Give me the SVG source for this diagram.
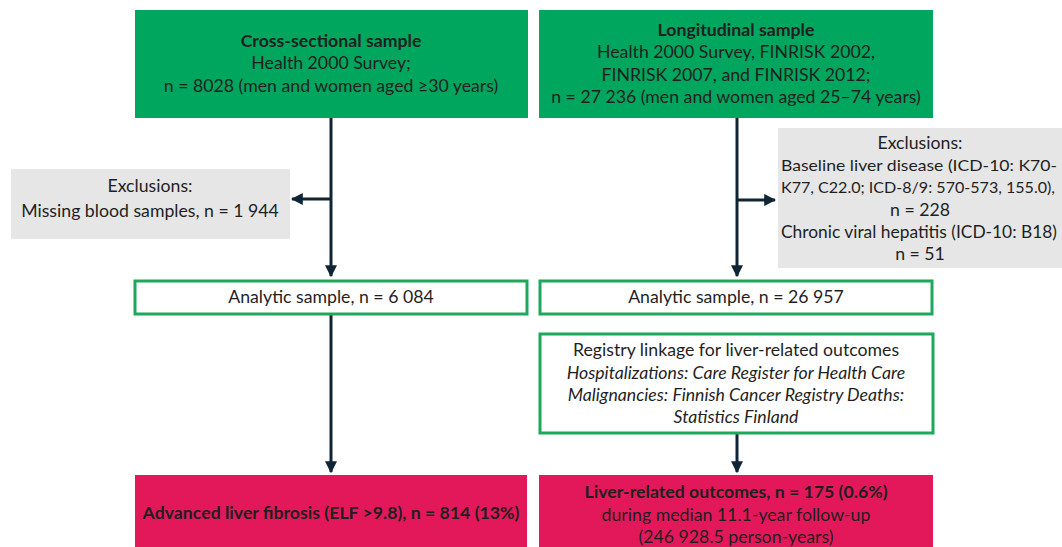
<svg xmlns="http://www.w3.org/2000/svg" width="1062" height="547" viewBox="0 0 1062 547">
<defs>
<style>
text{font-family:"Lato","Noto Sans",sans-serif;font-size:17.7px;fill:#1f1f1f;text-anchor:middle}
.b{font-weight:bold}
.i{font-style:italic}
.s{font-size:16px}
.green{fill:#00a65e}
.pink{fill:#e3185a}
.grey{fill:#e6e6e6}
.out{fill:#fff;stroke:#1fa85c;stroke-width:3}
.c{stroke:#0f2536;stroke-width:3;fill:none}
</style>
<marker id="ah" viewBox="0 0 10 10" refX="9" refY="5" markerWidth="4" markerHeight="4" orient="auto" markerUnits="strokeWidth">
<path d="M0,0 L10,5 L0,10 z" fill="#0f2536"/>
</marker>
</defs>
<rect width="1062" height="547" fill="#fff"/>
<g id="connectors">
<line class="c" x1="331" y1="118" x2="331" y2="276" marker-end="url(#ah)"/>
<line class="c" x1="331" y1="199" x2="292" y2="199" marker-end="url(#ah)"/>
<line class="c" x1="331" y1="314" x2="331" y2="472" marker-end="url(#ah)"/>
<line class="c" x1="737" y1="118" x2="737" y2="276" marker-end="url(#ah)"/>
<line class="c" x1="737" y1="200" x2="775" y2="200" marker-end="url(#ah)"/>
<line class="c" x1="737" y1="433" x2="737" y2="472" marker-end="url(#ah)"/>
</g>
<g id="cross-sectional">
<rect class="green" x="135" y="10" width="393" height="108"/>
<text class="b" x="331" y="47">Cross-sectional sample</text>
<text x="331" y="69">Health 2000 Survey;</text>
<text x="331" y="92">n = 8028 (men and women aged ≥30 years)</text>
</g>
<g id="longitudinal">
<rect class="green" x="539" y="10" width="394" height="108"/>
<text class="b" x="736" y="36">Longitudinal sample</text>
<text x="736" y="58">Health 2000 Survey, FINRISK 2002,</text>
<text x="736" y="81">FINRISK 2007, and FINRISK 2012;</text>
<text x="736" y="103">n = 27 236 (men and women aged 25–74 years)</text>
</g>
<g id="exclusions-left">
<rect class="grey" x="11" y="169" width="279" height="70"/>
<text x="150" y="192">Exclusions:</text>
<text x="150" y="217">Missing blood samples, n = 1 944</text>
</g>
<g id="exclusions-right">
<rect class="grey" x="778" y="128" width="284" height="140"/>
<text x="920" y="149">Exclusions:</text>
<text class="s" x="919" y="171" textLength="276" lengthAdjust="spacingAndGlyphs">Baseline liver disease (ICD-10: K70-</text>
<text class="s" x="918" y="193" textLength="274" lengthAdjust="spacingAndGlyphs">K77, C22.0; ICD-8/9: 570-573, 155.0),</text>
<text x="920" y="216">n = 228</text>
<text x="919" y="238" textLength="276" lengthAdjust="spacingAndGlyphs">Chronic viral hepatitis (ICD-10: B18)</text>
<text x="920" y="260">n = 51</text>
</g>
<g id="analytic-left">
<rect class="out" x="135" y="281" width="392" height="33"/>
<text x="331" y="303">Analytic sample, n = 6 084</text>
</g>
<g id="analytic-right">
<rect class="out" x="540" y="281" width="392" height="33"/>
<text x="736" y="303">Analytic sample, n = 26 957</text>
</g>
<g id="registry">
<rect class="out" x="540" y="334" width="393" height="99"/>
<text x="736" y="356">Registry linkage for liver-related outcomes</text>
<text class="i" x="736" y="379">Hospitalizations: Care Register for Health Care</text>
<text class="i" x="736" y="401">Malignancies: Finnish Cancer Registry Deaths:</text>
<text class="i" x="736" y="423">Statistics Finland</text>
</g>
<g id="fibrosis">
<rect class="pink" x="135" y="475" width="392" height="80"/>
<text class="b" x="331" y="519">Advanced liver fibrosis (ELF &gt;9.8), n = 814 (13%)</text>
</g>
<g id="outcomes">
<rect class="pink" x="539" y="475" width="394" height="80"/>
<text class="b" x="736" y="498">Liver-related outcomes, n = 175 (0.6%)</text>
<text x="736" y="521">during median 11.1-year follow-up</text>
<text x="736" y="543">(246 928.5 person-years)</text>
</g>
</svg>
